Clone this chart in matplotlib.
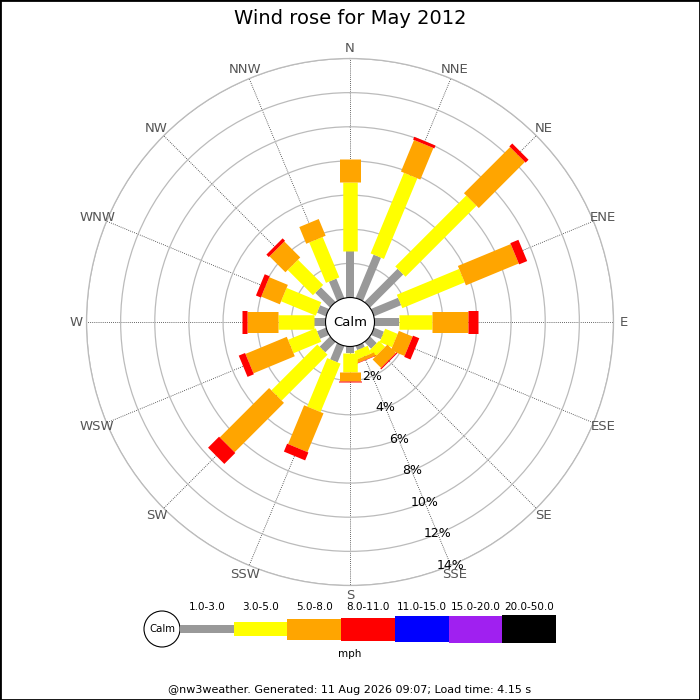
import matplotlib
matplotlib.use("Agg")
import matplotlib.pyplot as plt
import numpy as np
from matplotlib.patches import Rectangle, Circle

# data
directions = ["N", "NNE", "NE", "ENE", "E", "ESE", "SE", "SSE",
              "S", "SSW", "SW", "WSW", "W", "WNW", "NW", "NNW"]
speed_bins = ["1.0-3.0", "3.0-5.0", "5.0-8.0", "8.0-11.0",
              "11.0-15.0", "15.0-20.0", "20.0-50.0"]
bin_colors = ["#999999", "#ffff00", "#ffa500", "#ff0000",
              "#0000ff", "#a020f0", "#000000"]

# percent of time per direction, one list per speed bin
pct_1_3 = [2.74, 2.74, 2.74, 1.71, 1.44, 0.62, 0.55, 0.25,
           0.38, 1.03, 0.85, 0.56, 0.68, 0.56, 1.21, 1.22]
pct_3_5 = [4.00, 5.11, 5.88, 3.95, 1.90, 0.79, 0.50, 0.50,
           1.12, 3.07, 3.80, 1.76, 2.13, 2.20, 2.09, 2.56]
pct_5_8 = [1.35, 2.00, 3.82, 3.35, 2.12, 0.87, 0.70, 0.20,
           0.55, 2.46, 4.09, 2.62, 1.77, 1.18, 1.32, 1.06]
pct_8_11 = [0.00, 0.18, 0.24, 0.51, 0.59, 0.40, 0.07, 0.03,
            0.05, 0.50, 0.91, 0.40, 0.33, 0.31, 0.20, 0.00]
pct_11_15 = [0.0] * 16
pct_15_20 = [0.0] * 16
pct_20_50 = [0.0] * 16

ring_ticks = [2, 4, 6, 8, 10, 12, 14]

title = "Wind rose for May 2012"
footer = "@nw3weather. Generated: 11 Aug 2026 09:07; Load time: 4.15 s"

# bar thickness per speed bin, in pixels
bar_px = [8, 14.5, 21, 23, 25.5, 27, 28.5]
PT = 0.72  # points per pixel at dpi 100

fig = plt.figure(figsize=(7, 7), dpi=100)

R = 263.5
cx, cy = 350, 322
ax = fig.add_axes([(cx - R) / 700, (700 - cy - R) / 700, 2 * R / 700, 2 * R / 700],
                  projection="polar")
ax.set_theta_zero_location("N")
ax.set_theta_direction(-1)
rorigin = -1.435
ax.set_ylim(0, 14)
ax.set_rorigin(rorigin)

thetas = np.deg2rad(np.arange(16) * 22.5)
ax.set_xticks(thetas)
ax.set_xticklabels([])
ax.set_yticks(ring_ticks)
ax.set_yticklabels([])
ax.tick_params(length=0)
ax.xaxis.grid(True, color="#333333", linestyle=(0, (1, 1.5)), linewidth=0.6)
ax.yaxis.grid(True, color="#bbbbbb", linestyle="-", linewidth=0.9)
ax.spines["polar"].set_color("#bbbbbb")
ax.spines["polar"].set_linewidth(0.9)
ax.spines["inner"].set_color("black")
ax.spines["inner"].set_linewidth(0.8)

series = np.array([pct_1_3, pct_3_5, pct_5_8, pct_8_11,
                   pct_11_15, pct_15_20, pct_20_50])
cum = np.vstack([np.zeros(16), np.cumsum(series, axis=0)])

for i, th in enumerate(thetas):
    for k in range(len(speed_bins)):
        if series[k, i] <= 0:
            continue
        ax.plot([th, th], [cum[k, i], cum[k + 1, i]], color=bin_colors[k],
                linewidth=bar_px[k] * PT, solid_capstyle="butt")

for th, name in zip(thetas, directions):
    ax.text(th, 14.6, name, ha="center", va="center", fontsize=9.5,
            color="#555555", clip_on=False)

for r in ring_ticks:
    ax.text(np.deg2rad(157.5), r, "%d%%" % r, ha="center", va="center",
            fontsize=9, color="black", zorder=5)

ax.text(0.5, 0.5, "Calm", transform=ax.transAxes, ha="center", va="center",
        fontsize=9.5)

fig.text(0.5, 1 - 18 / 700, title, ha="center", va="center", fontsize=14)

# legend and footer in pixel coordinates
lg = fig.add_axes([0, 0, 1, 1])
lg.set_xlim(0, 700)
lg.set_ylim(700, 0)
lg.set_axis_off()

lg.add_patch(Circle((162, 629), 18, facecolor="white", edgecolor="black",
                    linewidth=0.8))
lg.text(162, 629, "Calm", ha="center", va="center", fontsize=7.3)
x0 = 180
seg = 53.7
for k, lab in enumerate(speed_bins):
    h = bar_px[k]
    lg.add_patch(Rectangle((x0 + k * seg, 629 - h / 2), seg, h,
                           facecolor=bin_colors[k], edgecolor="none"))
    lg.text(x0 + k * seg + seg / 2, 607, lab, ha="center", va="center",
            fontsize=7.5)
lg.text(350, 654, "mph", ha="center", va="center", fontsize=7.5)

fig.text(0.5, 1 - 690 / 700, footer, ha="center", va="center", fontsize=8)

fig.patches.append(Rectangle((0, 0), 1, 1, transform=fig.transFigure,
                             fill=False, edgecolor="black", linewidth=2))

fig.savefig("out.png", dpi=100)
